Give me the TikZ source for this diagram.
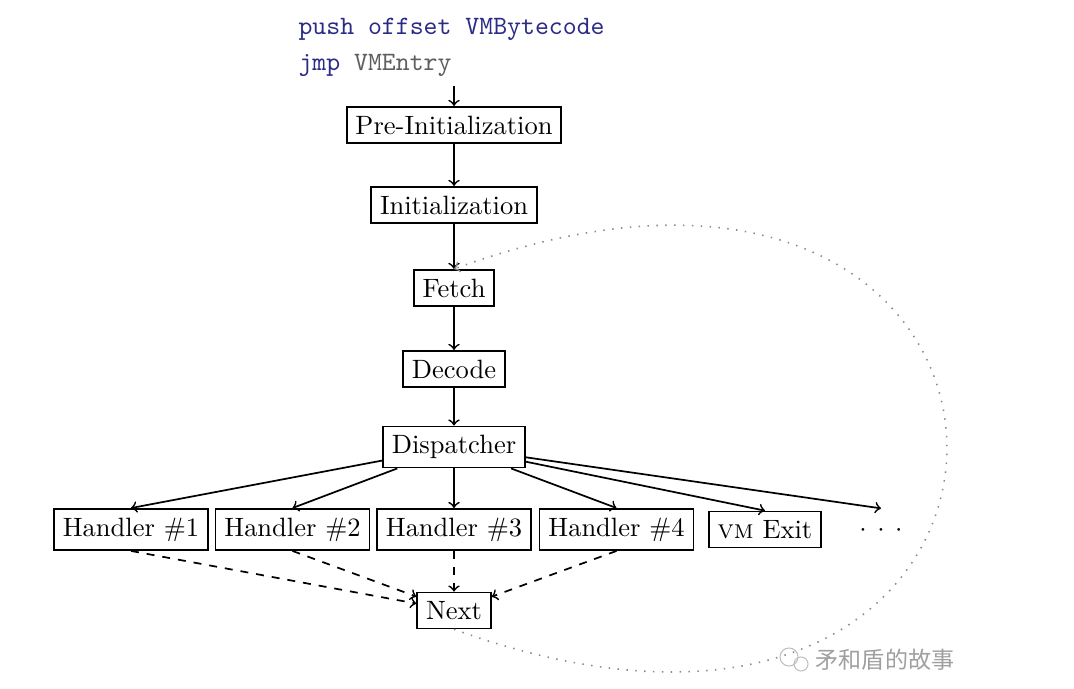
\documentclass[tikz,border=0pt]{standalone}
\usepackage{fontspec}
\newfontfamily\cjkfont{Noto Sans CJK SC}
\definecolor{codeblue}{HTML}{2B2B85}
\definecolor{codegray}{HTML}{5E5E5E}
\definecolor{loopgray}{HTML}{8A8A8A}
\begin{document}
\begin{tikzpicture}[x=0.3774pt, y=-0.3774pt,
  box/.style={draw, line width=0.65pt, inner sep=3.33pt},
  flow/.style={->, line width=0.65pt},
  dashflow/.style={->, dashed, line width=0.65pt},
  loopline/.style={->, loopgray, line width=0.6pt, dash pattern=on 0.55pt off 2.8pt},
  mark wm/.style={text=gray!75, font=\cjkfont\fontsize{8.7}{10}\selectfont}]
\useasboundingbox (0,0) rectangle (1074,689);

% code
\node[anchor=north west, inner sep=0pt, align=left, font=\ttfamily] (code) at (298,18)
  {\textcolor{codeblue}{push offset VMBytecode}\\[1.5pt]\textcolor{codeblue}{jmp} \textcolor{codegray}{VMEntry}};
\coordinate (entry) at (454,86);

% main column
\node[box] (pre)   at (454,125) {Pre-Initialization};
\node[box] (init)  at (454,205) {Initialization};
\node[box] (fetch) at (454,288) {Fetch};
\node[box] (dec)   at (454,369) {Decode};
\node[box] (disp)  at (454,447) {Dispatcher};

% handlers
\node[box] (h1) at (131,529.5) {Handler \#1};
\node[box] (h2) at (292.5,529.5) {Handler \#2};
\node[box] (h3) at (454,529.5) {Handler \#3};
\node[box] (h4) at (616.5,529.5) {Handler \#4};
\node[box] (exit) at (765,529.5) {\textsc{vm} Exit};
\node[inner sep=3.33pt, text height=6.94pt, text depth=1.94pt] (more) at (881,529.5)
  {$\cdot$\hspace{4pt}$\cdot$\hspace{4pt}$\cdot$};

\node[box] (next) at (454,610.5) {Next};

% connectors
\draw[flow] (entry) -- (pre);
\draw[flow] (pre) -- (init);
\draw[flow] (init) -- (fetch);
\draw[flow] (fetch) -- (dec);
\draw[flow] (dec) -- (disp);

\draw[flow] (disp) -- (h1.north);
\draw[flow] (disp) -- (h2.north);
\draw[flow] (disp) -- (h3.north);
\draw[flow] (disp) -- (h4.north);
\draw[flow] (disp) -- (exit.north);
\draw[flow] (disp) -- (more.north);

\draw[dashflow] (h1.south) -- (next);
\draw[dashflow] (h2.south) -- (next);
\draw[dashflow] (h3.south) -- (next);
\draw[dashflow] (h4.south) -- (next);

\draw[loopline] (next.south) .. controls (1111,866) and (1111,30) .. (fetch.north);

% watermark
\draw[gray!50, line width=0.4pt] (789,657) circle[radius=9];
\draw[gray!50, line width=0.4pt] (801,664) circle[radius=7];
\node[mark wm] (wm) at (885,660) {矛和盾的故事};
\end{tikzpicture}
\end{document}
